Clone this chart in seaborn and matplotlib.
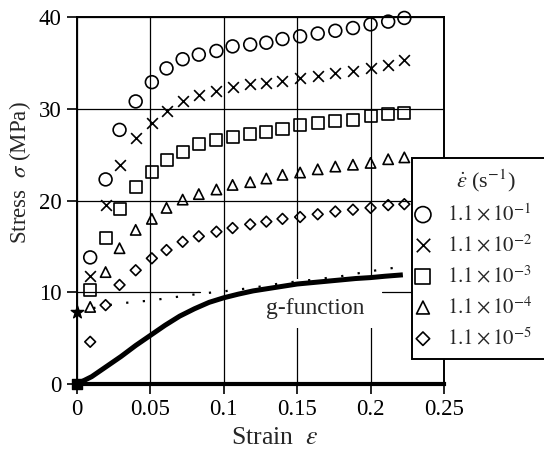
import numpy as np
import matplotlib
matplotlib.use("Agg")
import matplotlib.pyplot as plt
from matplotlib.patches import Rectangle
import seaborn as sns

# ==========================
# DATA
# ==========================
strain = [0.009, 0.0195, 0.029, 0.040, 0.051, 0.061, 0.072, 0.083, 0.095, 0.106,
          0.118, 0.129, 0.140, 0.152, 0.164, 0.176, 0.188, 0.200, 0.212, 0.223]

stress_1e1 = [13.8, 22.3, 27.7, 30.8, 32.9, 34.4, 35.4, 35.9, 36.3, 36.8,
              37.0, 37.2, 37.6, 37.9, 38.2, 38.5, 38.8, 39.2, 39.5, 39.9]
stress_1e2 = [11.8, 19.5, 23.9, 26.8, 28.4, 29.8, 30.9, 31.5, 31.9, 32.4,
              32.7, 32.8, 33.0, 33.3, 33.6, 33.9, 34.1, 34.4, 34.8, 35.3]
stress_1e3 = [10.3, 15.9, 19.1, 21.5, 23.1, 24.4, 25.3, 26.2, 26.6, 26.9,
              27.2, 27.5, 27.8, 28.2, 28.4, 28.7, 28.8, 29.2, 29.4, 29.5]
stress_1e4 = [8.4, 12.2, 14.8, 16.8, 18.0, 19.2, 20.1, 20.7, 21.2, 21.7,
              22.0, 22.4, 22.8, 23.05, 23.4, 23.7, 23.9, 24.1, 24.5, 24.7]
stress_1e5 = [4.6, 8.6, 10.8, 12.4, 13.7, 14.6, 15.5, 16.1, 16.6, 17.0,
              17.4, 17.7, 18.0, 18.2, 18.5, 18.8, 19.0, 19.2, 19.5, 19.6]

rate_labels = [r"$1.1\times10^{-1}$", r"$1.1\times10^{-2}$", r"$1.1\times10^{-3}$",
               r"$1.1\times10^{-4}$", r"$1.1\times10^{-5}$"]

# g-function (thick solid curve)
g_strain = [0, 0.01, 0.02, 0.03, 0.04, 0.05, 0.06, 0.07, 0.08, 0.09, 0.10, 0.11,
            0.12, 0.13, 0.14, 0.15, 0.16, 0.17, 0.18, 0.19, 0.20, 0.21, 0.222]
g_stress = [0, 0.8, 1.9, 3.0, 4.2, 5.3, 6.4, 7.4, 8.2, 8.9, 9.4, 9.8,
            10.15, 10.4, 10.65, 10.9, 11.05, 11.2, 11.35, 11.5, 11.6, 11.75, 11.9]

# dotted curve starting at the star
dot_strain = [0, 0.0195, 0.03, 0.05, 0.084, 0.10, 0.12, 0.14, 0.16, 0.18, 0.20, 0.222]
dot_stress = [7.9, 8.55, 8.8, 9.1, 9.85, 10.1, 10.5, 11.0, 11.35, 11.75, 12.3, 12.8]

star_strain, star_stress = [0], [7.9]
origin_strain, origin_stress = [0], [0]

x_ticks = [0, 0.05, 0.1, 0.15, 0.2, 0.25]
x_ticklabels = ["0", "0.05", "0.1", "0.15", "0.2", "0.25"]
y_ticks = [0, 10, 20, 30, 40]

# ==========================
# STYLE
# ==========================
sns.set_style("white")
plt.rcParams["font.family"] = ["Liberation Serif", "DejaVu Serif"]
plt.rcParams["mathtext.fontset"] = "stix"

fig = plt.figure(figsize=(5.44, 4.55), dpi=100)
ax = fig.add_axes([0.1415, 0.156, 0.6746, 0.8066])

# ==========================
# MARKERS
# ==========================
series = [stress_1e1, stress_1e2, stress_1e3, stress_1e4, stress_1e5]
markers = ["o", "x", "s", "^", "D"]
sizes = [85, 60, 75, 55, 30]

for vals, m, s, lab in zip(series, markers, sizes, rate_labels):
    if m == "x":
        sns.scatterplot(x=strain, y=vals, marker=m, s=s, color="black",
                        linewidth=1.2, ax=ax, label=lab, clip_on=False, zorder=4)
    else:
        sns.scatterplot(x=strain, y=vals, marker=m, s=s, facecolor="none",
                        edgecolor="black", linewidth=1.2, ax=ax, label=lab,
                        clip_on=False, zorder=4)

# ==========================
# CURVES
# ==========================
sns.lineplot(x=g_strain, y=g_stress, color="black", linewidth=3.6, ax=ax,
             zorder=3, solid_capstyle="butt")
sns.lineplot(x=dot_strain, y=dot_stress, color="black", linewidth=1.6,
             linestyle=(0, (1, 6.5)), ax=ax, zorder=3)

ax.scatter(star_strain, star_stress, marker="*", s=90, color="black",
           clip_on=False, zorder=5)
ax.scatter(origin_strain, origin_stress, marker="s", s=55, color="black",
           clip_on=False, zorder=5)

# white patch behind the label (hides grid under the curve)
ax.add_patch(Rectangle((0.105, 6.1), 0.103, 5.3, facecolor="white",
                       edgecolor="none", zorder=1.5))
ax.text(0.1626, 8.2, "g-function", ha="center", va="center", fontsize=17,
        zorder=2)

# ==========================
# AXES
# ==========================
ax.set_xlim(0, 0.25)
ax.set_ylim(0, 40)
ax.set_xticks(x_ticks)
ax.set_xticklabels(x_ticklabels)
ax.set_yticks(y_ticks)
ax.tick_params(axis="both", direction="out", length=7, width=1.2,
               labelsize=16.5, pad=4, colors="black")
ax.tick_params(axis="both", bottom=True, left=True)

ax.set_axisbelow(True)
ax.grid(True, color="black", linewidth=0.9)
ax.yaxis.get_gridlines()[1].set_visible(False)
ax.axhline(10, xmin=0, xmax=0.336, color="black", linewidth=0.9, zorder=0.5)
ax.axhline(10, xmin=0.832, xmax=1, color="black", linewidth=0.9, zorder=0.5)

for side in ["left", "top", "right"]:
    ax.spines[side].set_color("black")
    ax.spines[side].set_linewidth(1.4)
ax.spines["bottom"].set_color("black")
ax.spines["bottom"].set_linewidth(3.0)

ax.set_xlabel(r"Strain  $\epsilon$", fontsize=18.5)
ax.set_ylabel(r"Stress  $\sigma$ (MPa)", fontsize=16.5)
ax.xaxis.set_label_coords(0.54, -0.118)
ax.yaxis.set_label_coords(-0.12, 0.575)

# ==========================
# LEGEND
# ==========================
handles, labels = ax.get_legend_handles_labels()
handles, labels = handles[:5], labels[:5]
leg = ax.legend(handles, labels,
                title=r"$\dot{\varepsilon}$ (s$^{-1}$)", title_fontsize=16,
                fontsize=15, loc="upper left",
                bbox_to_anchor=(412 / 544, 0.2, 0.27, 1 - 158 / 455 - 0.2),
                bbox_transform=fig.transFigure, mode="expand",
                borderaxespad=0, borderpad=0.45, handlelength=0.15,
                handletextpad=1.1, labelspacing=0.45, markerscale=1.25,
                frameon=True, fancybox=False, framealpha=1,
                edgecolor="black")
leg.get_frame().set_linewidth(1.4)
leg.set_zorder(10)

fig.savefig("out.png", dpi=100)
plt.close()
